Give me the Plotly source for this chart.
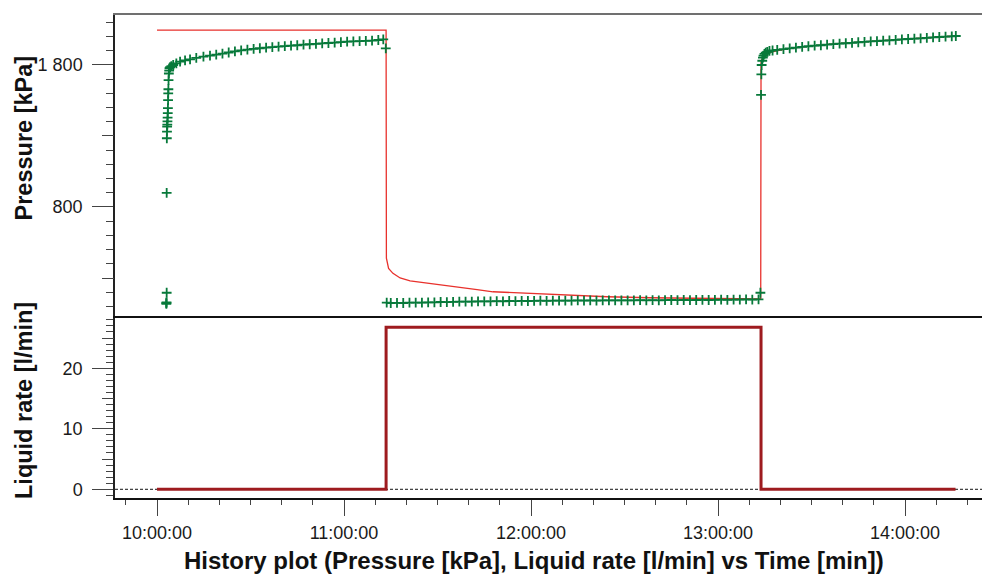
import pandas as pd
import plotly.graph_objects as go

BASE = pd.Timestamp("2000-01-01 10:00:00")

# ---- Model (simulated) pressure, red line: minutes after 10:00, kPa
model_min = [0.0, 73.5, 73.6, 74.3, 75.7, 78.0, 81.2, 88.6, 94.1, 102.7, 107.8, 115.5,
             122.9, 132.5, 144.4, 158.2, 174.3, 190.3, 193.7, 193.8, 194.0, 194.5, 195.6,
             198.8, 203.1, 209.5, 217.0, 227.7, 238.4, 249.1, 256.0]
model_kpa = [2046, 2046, 439, 368, 333, 300, 280, 260, 246, 218, 203, 196,
             187, 180, 168, 161, 157, 152, 152, 1812, 1835, 1858, 1882,
             1900, 1917, 1933, 1948, 1964, 1981, 1995, 2004]

# ---- Measured pressure, green crosses
meas_min = [3.0, 3.0, 3.05, 3.1, 3.1, 3.15, 3.2, 3.25, 3.3, 3.35, 3.4, 3.45, 3.5, 3.55,
            3.6, 3.65, 3.7, 3.8, 3.9, 4.0, 4.2, 4.6, 5.2, 6.2, 7.4, 9.0, 10.6, 12.6,
            14.9, 17.0, 19.0, 21.0, 23.0, 25.0, 27.0, 29.0, 31.0, 33.0, 35.0, 37.0,
            39.0, 41.0, 43.0, 45.0, 47.0, 49.0, 51.0, 53.0, 55.0, 57.0, 59.0, 61.0,
            63.0, 65.0, 67.0, 69.0, 71.0, 72.6, 73.4,
            73.7, 75.0, 77.0, 79.0, 81.0, 83.0, 85.0, 87.0, 89.0, 91.0, 93.0, 95.0,
            97.0, 99.0, 101.0, 103.0, 105.0, 107.0, 109.0, 111.0, 113.0, 115.0, 117.0,
            119.0, 121.0, 123.0, 125.0, 127.0, 129.0, 131.0, 133.0, 135.0, 137.0,
            139.0, 141.0, 143.0, 145.0, 147.0, 149.0, 151.0, 153.0, 155.0, 157.0,
            159.0, 161.0, 163.0, 165.0, 167.0, 169.0, 171.0, 173.0, 175.0, 177.0,
            179.0, 181.0, 183.0, 185.0, 187.0, 189.0, 191.0, 193.0, 193.6,
            193.8, 193.9, 194.0, 194.2, 194.4, 194.6, 194.9, 195.3, 195.8, 196.5,
            197.5, 199.0, 201.0, 203.0, 205.0, 207.0, 209.0, 211.0, 213.0, 215.0,
            217.0, 219.0, 221.0, 223.0, 225.0, 227.0, 229.0, 231.0, 233.0, 235.0,
            237.0, 239.0, 241.0, 243.0, 245.0, 247.0, 249.0, 251.0, 253.0, 255.0, 256.3]
meas_kpa = [118, 124, 128, 196, 900, 1284, 1331, 1366, 1380, 1403, 1430, 1461, 1496, 1553,
            1600, 1629, 1694, 1740, 1760, 1777, 1785, 1792, 1800, 1812, 1823, 1832, 1840, 1850,
            1859, 1866, 1873, 1880, 1888, 1896, 1903, 1908, 1913, 1918, 1922, 1926,
            1930, 1933, 1936, 1939, 1943, 1946, 1949, 1952, 1955, 1958, 1961, 1964,
            1966, 1968, 1970, 1972, 1976, 1981, 1917,
            126, 124, 125, 124, 126, 127, 127, 128, 129, 131, 130, 132,
            133, 134, 133, 135, 136, 135, 137, 136, 138, 137, 139,
            138, 139, 140, 139, 141, 140, 141, 140, 142, 141,
            142, 141, 142, 143, 142, 143, 142, 143, 144, 143,
            144, 143, 144, 145, 144, 145, 144, 145, 146, 145,
            146, 147, 146, 147, 148, 149, 148, 150, 196,
            1589, 1734, 1800, 1830, 1852, 1866, 1878, 1886, 1893, 1899,
            1902, 1906, 1912, 1917, 1922, 1927, 1932, 1936, 1939, 1943,
            1947, 1950, 1953, 1956, 1960, 1963, 1966, 1968, 1971, 1974,
            1977, 1980, 1983, 1986, 1988, 1991, 1994, 1997, 2000, 2002, 2004]

# ---- Liquid rate, dark red step line
rate_min = [0.0, 73.5, 73.5, 193.8, 193.8, 256.2]
rate_lpm = [0.0, 0.0, 26.8, 26.8, 0.0, 0.0]

x_range_min = [-13.48, 264.7]
p_range = [18.3, 2152]
q_range = [-1.44, 28.31]


def to_time(mins):
    return [BASE + pd.Timedelta(minutes=m) for m in mins]


FONT = "Liberation Sans, Arial, sans-serif"
TICKC = "#444444"

fig = go.Figure()
fig.add_trace(go.Scatter(x=to_time(model_min), y=model_kpa, mode="lines",
                         line=dict(color="#e8312c", width=1.3), xaxis="x", yaxis="y",
                         showlegend=False, hoverinfo="skip"))
fig.add_trace(go.Scatter(x=to_time(meas_min), y=meas_kpa, mode="markers",
                         marker=dict(symbol="cross-thin", size=7,
                                     line=dict(width=1.8, color="#07793a")),
                         xaxis="x", yaxis="y", showlegend=False, hoverinfo="skip"))
fig.add_trace(go.Scatter(x=to_time(rate_min), y=rate_lpm, mode="lines",
                         line=dict(color="#9e1b1f", width=3), xaxis="x2", yaxis="y2",
                         showlegend=False, hoverinfo="skip"))
# empty traces so the overlay tick axes are drawn
fig.add_trace(go.Scatter(x=[None], y=[None], xaxis="x", yaxis="y3", showlegend=False))
fig.add_trace(go.Scatter(x=[None], y=[None], xaxis="x2", yaxis="y4", showlegend=False))

xr = [BASE + pd.Timedelta(minutes=m) for m in x_range_min]
split = 180 / 483

fig.update_layout(
    width=982, height=575,
    margin=dict(l=115, r=0, t=15, b=77),
    paper_bgcolor="white", plot_bgcolor="white",
    separators=". ",
    font=dict(family=FONT, size=18, color="#1a1a1a"),
    xaxis=dict(domain=[0, 1], anchor="y", side="top", range=xr, type="date",
               matches="x2", showticklabels=False, ticks="", showgrid=False,
               zeroline=False, showline=True, linecolor="#707070", linewidth=2),
    xaxis2=dict(domain=[0, 1], anchor="y2", range=xr, type="date",
                tickformat="%H:%M:%S", tick0=BASE, dtick=3600000,
                ticks="outside", ticklen=16, tickwidth=1.3, tickcolor=TICKC,
                minor=dict(dtick=600000, ticks="outside", ticklen=5, tickwidth=1.2,
                           tickcolor=TICKC, showgrid=False),
                showgrid=False, zeroline=False, showline=True, mirror=True,
                linecolor="#111111", linewidth=2,
                tickfont=dict(size=18), ticklabelstandoff=1),
    yaxis=dict(domain=[split, 1], anchor="x", range=p_range,
               tick0=800, dtick=1000, separatethousands=True,
               ticks="outside", ticklen=21, tickwidth=1.3, tickcolor=TICKC,
               minor=dict(dtick=100, ticks="outside", ticklen=7, tickwidth=1.2,
                          tickcolor=TICKC, showgrid=False),
               showgrid=False, zeroline=False, showline=True,
               linecolor="#222222", linewidth=1.5, tickfont=dict(size=18),
               ticklabelstandoff=6),
    yaxis3=dict(overlaying="y", anchor="x", side="left", range=p_range,
                tickvals=[300, 1300], ticks="outside", ticklen=12, tickwidth=1.3,
                tickcolor=TICKC, showticklabels=False, showgrid=False,
                zeroline=False, showline=False),
    yaxis2=dict(domain=[0, split], anchor="x2", range=q_range,
                tick0=0, dtick=10,
                ticks="outside", ticklen=21, tickwidth=1.3, tickcolor=TICKC,
                minor=dict(dtick=1, ticks="outside", ticklen=7, tickwidth=1.2,
                           tickcolor=TICKC, showgrid=False),
                showgrid=False, zeroline=False, showline=True,
                linecolor="#222222", linewidth=1.5, tickfont=dict(size=18),
                ticklabelstandoff=6),
    yaxis4=dict(overlaying="y2", anchor="x2", side="left", range=q_range,
                tickvals=[5, 15, 25], ticks="outside", ticklen=12, tickwidth=1.3,
                tickcolor=TICKC, showticklabels=False, showgrid=False,
                zeroline=False, showline=False),
    shapes=[dict(type="line", xref="x2 domain", x0=0, x1=1, yref="y2", y0=0, y1=0,
                 line=dict(color="#111111", width=1, dash="3px,2px"), layer="below")],
    annotations=[
        dict(text="<b>History plot (Pressure [kPa], Liquid rate [l/min] vs Time [min])</b>",
             xref="paper", yref="paper", x=(534 - 115) / 867, y=-(560.5 - 498) / 483,
             xanchor="center", yanchor="middle", showarrow=False, borderpad=0,
             font=dict(size=24, family=FONT, color="#111111")),
        dict(text="<b>Pressure [kPa]</b>", textangle=-90,
             xref="paper", yref="paper", x=-(115 - 24) / 867, y=(498 - 138.5) / 483,
             xanchor="center", yanchor="middle", showarrow=False,
             font=dict(size=23.5, family=FONT, color="#111111")),
        dict(text="<b>Liquid rate [l/min]</b>", textangle=-90,
             xref="paper", yref="paper", x=-(115 - 24) / 867, y=(498 - 401) / 483,
             xanchor="center", yanchor="middle", showarrow=False,
             font=dict(size=23.5, family=FONT, color="#111111")),
    ],
)

fig.write_html("out.html", config={"displayModeBar": False},
               post_script="document.body.style.margin='0';")
